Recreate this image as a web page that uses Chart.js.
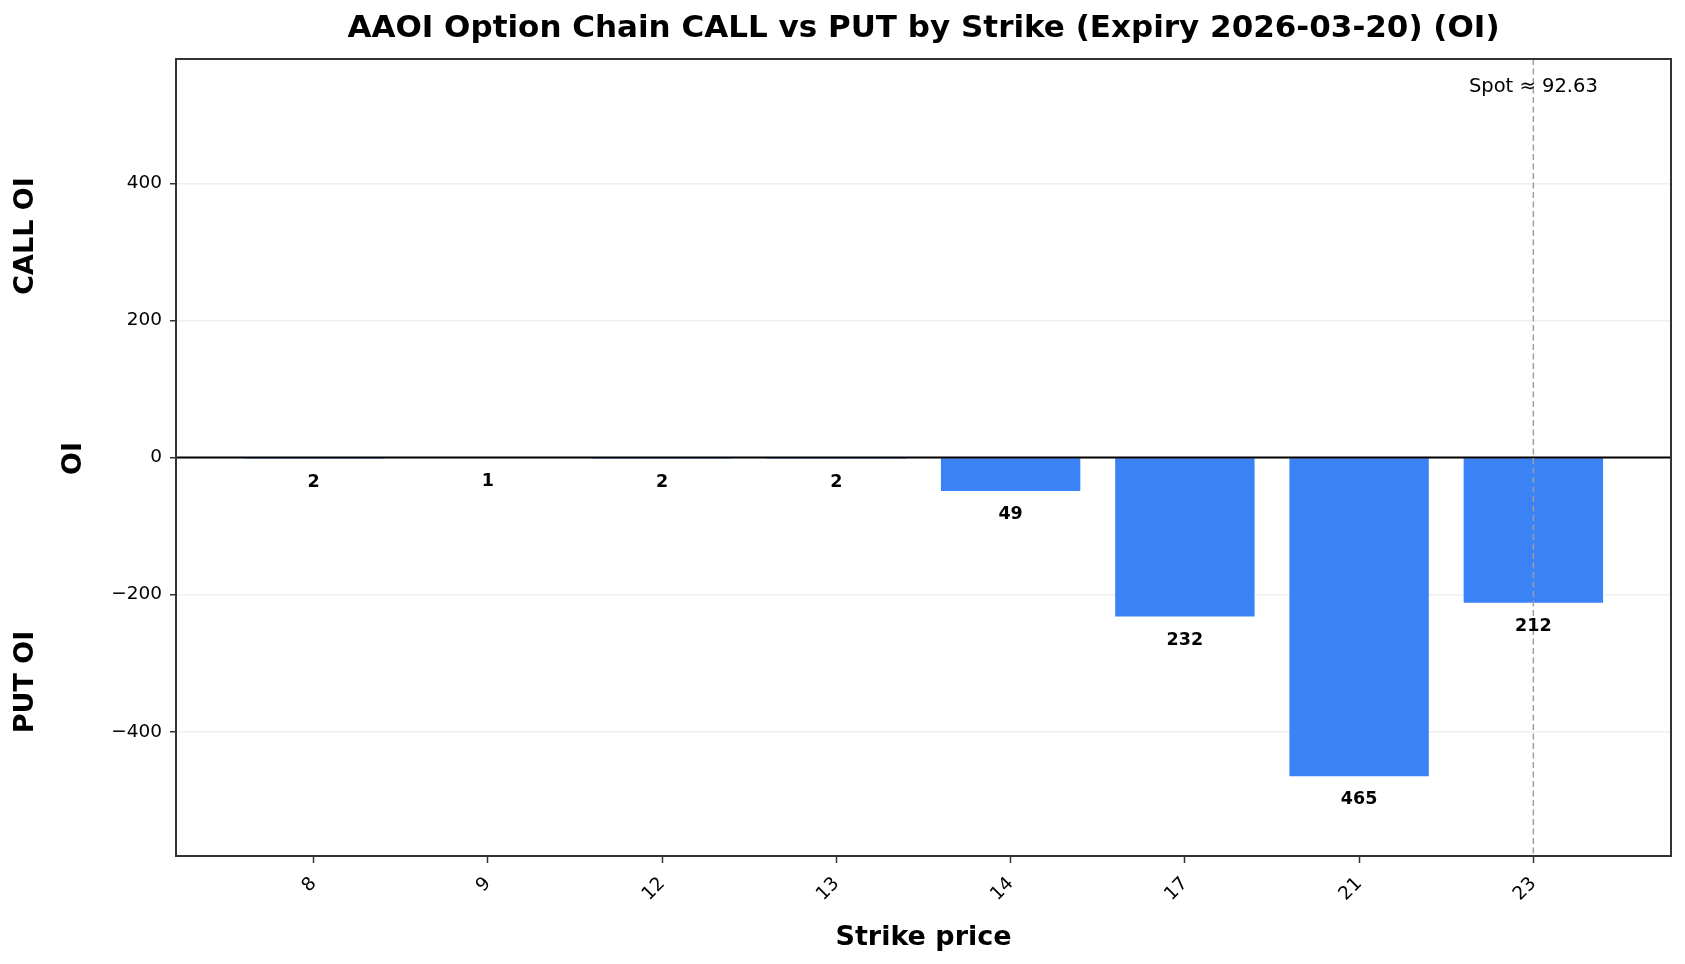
<!DOCTYPE html>
<html>
<head>
<meta charset="utf-8">
<title>AAOI Option Chain OI</title>
<script src="https://cdn.jsdelivr.net/npm/chart.js@4.4.1/dist/chart.umd.min.js"></script>
<style>
    html, body { margin: 0; padding: 0; background: #fff; }
    #wrap { width: 1685px; height: 964px; }
</style>
</head>
<body>
<div id="wrap"><canvas id="oiChart" width="1685" height="964"></canvas></div>
<script>
// ============================================
// DATA
// ============================================

const ticker = 'AAOI';
const expiry = '2026-03-20';
const spotPrice = 92.63;
const strikes = ['8', '9', '12', '13', '14', '17', '21', '23'];
const callOI = [0, 0, 0, 0, 0, 0, 0, 0];
const putOI = [2, 1, 2, 2, 49, 232, 465, 212];
const yTicks = [-400, -200, 0, 200, 400];

// ============================================
// HELPERS
// ============================================

const FONT = "'DejaVu Sans', 'Liberation Sans', sans-serif";
const CALL_COLOR = '#22c55e';
const PUT_COLOR = '#3b82f6';

// symmetric limits, like ylim(-m*1.25, m*1.25)
const yLimit = Math.max(...callOI, ...putOI) * 1.25;

// spot line sits on the strike closest to spot
function nearestStrikeIndex(price) {
    let best = 0;
    strikes.forEach((s, i) => {
        if (Math.abs(Number(s) - price) < Math.abs(Number(strikes[best]) - price)) best = i;
    });
    return best;
}
const spotIndex = nearestStrikeIndex(spotPrice);

function rotatedText(ctx, text, x, y) {
    ctx.save();
    ctx.translate(x, y);
    ctx.rotate(-Math.PI / 2);
    ctx.fillText(text, 0, 0);
    ctx.restore();
}

// ============================================
// OVERLAY: zero line, spot line, frame, labels
// ============================================

const overlayPlugin = {
    id: 'overlay',
    afterDraw(chart) {
        const { ctx, chartArea: a, scales: { x, y } } = chart;
        ctx.save();

        const y0 = y.getPixelForValue(0);
        ctx.strokeStyle = '#000';
        ctx.lineWidth = 2;
        ctx.beginPath();
        ctx.moveTo(a.left, y0);
        ctx.lineTo(a.right, y0);
        ctx.stroke();

        const sx = x.getPixelForValue(spotIndex);
        ctx.strokeStyle = '#9e9e9e';
        ctx.lineWidth = 1.5;
        ctx.setLineDash([6, 3.5]);
        ctx.beginPath();
        ctx.moveTo(sx, a.top);
        ctx.lineTo(sx, a.bottom);
        ctx.stroke();
        ctx.setLineDash([]);

        ctx.strokeStyle = '#333';
        ctx.lineWidth = 2;
        ctx.strokeRect(a.left, a.top, a.right - a.left, a.bottom - a.top);

        ctx.fillStyle = '#000';
        ctx.textAlign = 'center';
        ctx.textBaseline = 'alphabetic';

        // value labels
        ctx.font = `bold 17.5px ${FONT}`;
        chart.getDatasetMeta(0).data.forEach((bar, i) => {
            if (callOI[i] > 0) ctx.fillText(String(callOI[i]), bar.x, bar.y - 14);
        });
        chart.getDatasetMeta(1).data.forEach((bar, i) => {
            if (putOI[i] > 0) ctx.fillText(String(putOI[i]), bar.x, bar.y + 28);
        });

        ctx.font = `19.5px ${FONT}`;
        ctx.fillText(`Spot \u2248 ${spotPrice.toFixed(2)}`, sx, a.top + 33);

        const cx = (a.left + a.right) / 2;
        ctx.font = `bold 31px ${FONT}`;
        ctx.fillText(`${ticker} Option Chain CALL vs PUT by Strike (Expiry ${expiry}) (OI)`, cx, 37);

        ctx.font = `bold 27px ${FONT}`;
        ctx.fillText('Strike price', cx, 945);
        rotatedText(ctx, 'OI', 81, (a.top + a.bottom) / 2 + 1);
        rotatedText(ctx, 'CALL OI', 33, 236);
        rotatedText(ctx, 'PUT OI', 33, 682);

        ctx.restore();
    }
};

// ============================================
// CHART
// ============================================

const ctx = document.getElementById('oiChart').getContext('2d');

new Chart(ctx, {
    type: 'bar',
    data: {
        datasets: [{
            label: 'CALL OI',
            data: callOI.map((v, i) => ({ x: i, y: v })),
            backgroundColor: CALL_COLOR,
            grouped: false,
            barPercentage: 0.8,
            categoryPercentage: 1
        }, {
            label: 'PUT OI',
            data: putOI.map((v, i) => ({ x: i, y: -v })),
            backgroundColor: PUT_COLOR,
            grouped: false,
            barPercentage: 0.8,
            categoryPercentage: 1
        }]
    },
    options: {
        responsive: false,
        animation: false,
        devicePixelRatio: 1,
        layout: { padding: { left: 0, top: 59, right: 14, bottom: 0 } },
        plugins: {
            legend: { display: false },
            tooltip: { enabled: false }
        },
        scales: {
            x: {
                type: 'linear',
                min: -0.79,
                max: strikes.length - 1 + 0.79,
                offset: false,
                afterBuildTicks: (axis) => { axis.ticks = strikes.map((_, i) => ({ value: i })); },
                afterFit: (axis) => { axis.height = 108; },
                grid: {
                    offset: false,
                    drawOnChartArea: false,
                    tickColor: '#333',
                    tickLength: 7,
                    tickWidth: 1.5
                },
                border: { display: false },
                ticks: {
                    autoSkip: false,
                    maxRotation: 45,
                    minRotation: 45,
                    padding: 10,
                    color: '#000',
                    font: { family: FONT, size: 18.5 },
                    callback: (value, index) => strikes[index]
                }
            },
            y: {
                min: -yLimit,
                max: yLimit,
                z: 1,
                afterBuildTicks: (axis) => { axis.ticks = yTicks.map(v => ({ value: v })); },
                afterFit: (axis) => { axis.width = 176; },
                grid: {
                    color: 'rgba(176, 176, 176, 0.2)',
                    lineWidth: 1.5,
                    tickColor: '#333',
                    tickLength: 6,
                    tickWidth: 1.5
                },
                border: { display: false },
                ticks: {
                    padding: 8,
                    color: '#000',
                    font: { family: FONT, size: 18.5 },
                    callback: (value) => String(value).replace('-', '\u2212')
                }
            }
        }
    },
    plugins: [overlayPlugin]
});
</script>
</body>
</html>
